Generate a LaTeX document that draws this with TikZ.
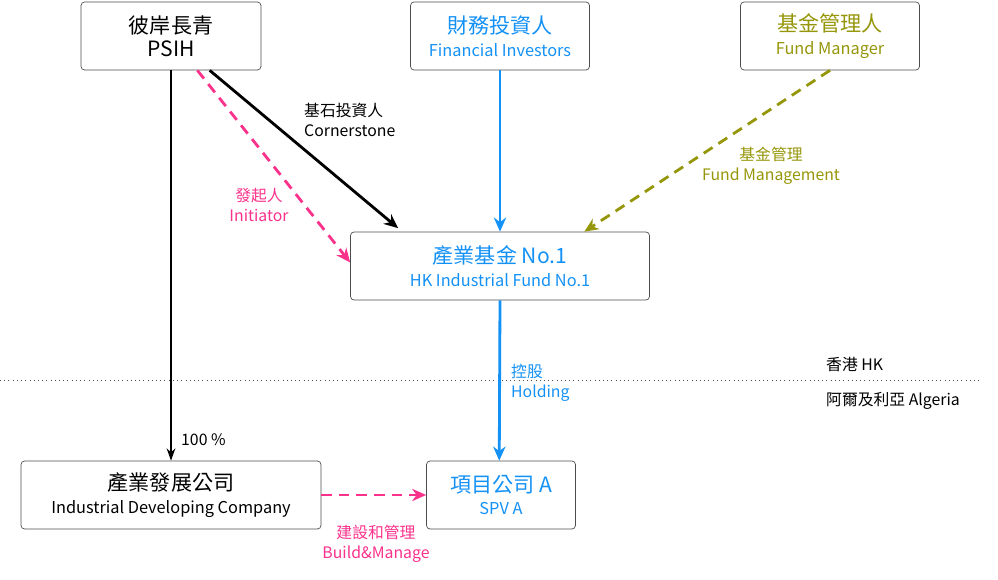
\documentclass[tikz,border=0pt]{standalone}
\usepackage{fontspec}
\setmainfont{Noto Sans CJK TC}
\usetikzlibrary{arrows.meta}
\definecolor{fundblue}{RGB}{20,145,245}
\definecolor{initpink}{RGB}{250,50,140}
\definecolor{mgrolive}{RGB}{150,150,10}
\tikzset{
	box/.style={draw=black!70, rounded corners=2pt, minimum width=#1, minimum height=1.36cm, align=center, inner sep=0pt},
	lbl/.style={font=\fontsize{9}{11.5}\selectfont, align=center},
	arr/.style={-{Stealth[length=8pt,width=7pt]}, line width=1.6pt},
	dsh/.style={dash pattern=on 6pt off 4pt}
}
\newcommand{\boxtext}[2]{{\fontsize{12}{15}\selectfont #1}\\[1pt]{\fontsize{9.3}{11}\selectfont #2}}
\begin{document}
\begin{tikzpicture}[x=0.02cm,y=-0.02cm]
	\useasboundingbox (0,0) rectangle (998,580);

	% boxes
	\node[box=3.6cm] (psih) at (171,36) {\boxtext{彼岸長青}{\fontsize{12}{15}\selectfont PSIH}};
	\node[box=3.58cm, text=fundblue] (fin) at (500,36) {\boxtext{財務投資人}{Financial Investors}};
	\node[box=3.58cm, text=mgrolive] (mgr) at (830,36) {\boxtext{基金管理人}{Fund Manager}};
	\node[box=5.98cm, text=fundblue] (fund) at (500,266) {\boxtext{產業基金 No.1}{HK Industrial Fund No.1}};
	\node[box=6cm] (dev) at (171,495) {\boxtext{產業發展公司}{Industrial Developing Company}};
	\node[box=2.98cm, text=fundblue] (spv) at (501,495) {\boxtext{項目公司 A}{SPV A}};

	% border line
	\draw[dotted, black!70] (0,380) -- (980,380);
	\node[lbl, anchor=west] (hk) at (820,365) {香港 HK};
	\node[lbl, anchor=west] (dz) at (820,401) {阿爾及利亞 Algeria};

	% connectors
	\draw[arr] ([xshift=22pt]psih.south) -- ([xshift=-58pt,yshift=2pt]fund.north);
	\node[lbl, align=left, anchor=west] (corner) at (298,120) {基石投資人\\Cornerstone};
	\draw[arr, initpink, dsh] ([xshift=15pt]psih.south) -- ([yshift=2pt]fund.west);
	\node[lbl, text=initpink] (init) at (259,205) {發起人\\Initiator};
	\draw[arr, fundblue] (fin.south) -- (fund.north);
	\draw[arr, mgrolive, dsh] (mgr.south) -- ([xshift=48pt]fund.north);
	\node[lbl, text=mgrolive] (mgmt) at (771,166) {基金管理\\Fund Management};
	\draw[arr, fundblue] (fund.south) -- ([xshift=-1]spv.north);
	\node[lbl, text=fundblue, align=left, anchor=west] (hold) at (505,383) {控股\\Holding};
	\draw[-{Stealth[length=7pt,width=5pt]}, line width=0.7pt] (psih.south) -- (dev.north);
	\node[lbl, anchor=west] (pct) at (175,440) {100 \%};
	\draw[arr, initpink, dsh] (dev.east) -- (spv.west);
	\node[lbl, text=initpink] (build) at (376,544) {建設和管理\\Build\&Manage};
\end{tikzpicture}
\end{document}
